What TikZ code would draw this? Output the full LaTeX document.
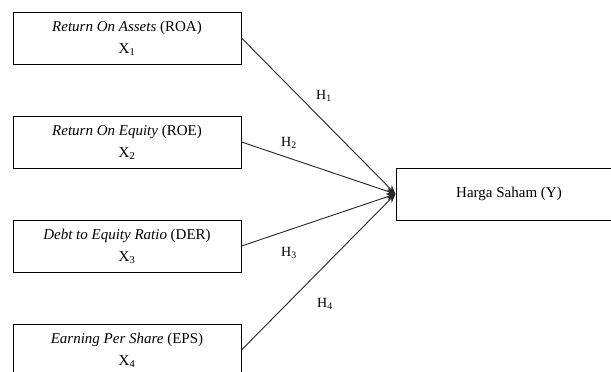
\documentclass[tikz,border=0pt]{standalone}
\usepackage{fontspec}
\setmainfont{Liberation Serif}
\usetikzlibrary{arrows.meta}
\begin{document}
\begin{tikzpicture}[x=1pt,y=-1pt,
  varbox/.style={draw=black, line width=1pt, minimum width=228pt, minimum height=52pt,
    inner sep=0pt, align=center, font=\fontsize{15}{22}\selectfont},
  hlabel/.style={font=\fontsize{14}{16}\selectfont, inner sep=0pt},
  link/.style={draw=black!85, line width=0.9pt, -{Stealth[length=9pt,width=7pt]}}]
\useasboundingbox (0,0) rectangle (611,372);
\clip (0,0) rectangle (611,372);
\fill[white] (0,0) rectangle (611,372);
\node[varbox] (x1) at (127,38) {\textit{Return On Assets} (ROA)\\X\textsubscript{1}};
\node[varbox] (x2) at (127,142) {\textit{Return On Equity} (ROE)\\X\textsubscript{2}};
\node[varbox] (x3) at (127,246) {\textit{Debt to Equity Ratio} (DER)\\X\textsubscript{3}};
\node[varbox] (x4) at (127,350) {\textit{Earning Per Share} (EPS)\\X\textsubscript{4}};
\node[varbox, minimum width=226pt] (y) at (509,194) {Harga Saham (Y)};
\draw[link] (x1.east) -- (y.west);
\draw[link] (x2.east) -- (y.west);
\draw[link] (x3.east) -- (y.west);
\draw[link] (x4.east) -- (y.west);
\node[hlabel] (h1) at (324,96) {H\textsubscript{1}};
\node[hlabel] (h2) at (289,143) {H\textsubscript{2}};
\node[hlabel] (h3) at (289,253) {H\textsubscript{3}};
\node[hlabel] (h4) at (325,304) {H\textsubscript{4}};
\end{tikzpicture}
\end{document}
